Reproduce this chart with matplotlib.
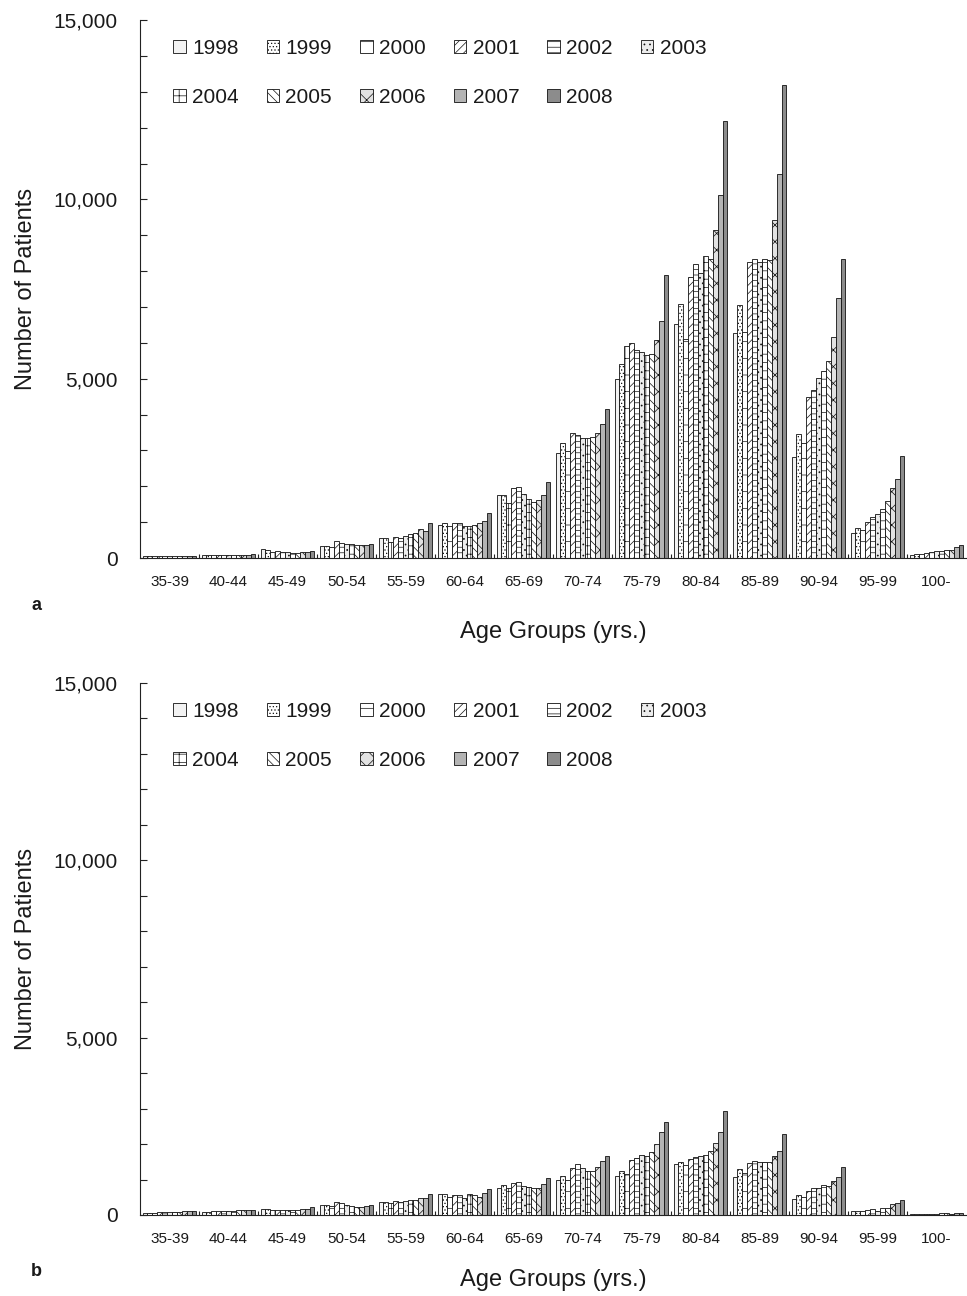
import numpy as np
import matplotlib
matplotlib.use('Agg')
import matplotlib.pyplot as plt
from matplotlib.ticker import MultipleLocator, FuncFormatter

plt.rcParams['font.family'] = ['Liberation Sans', 'DejaVu Sans']
plt.rcParams['hatch.linewidth'] = 0.5

years = ['1998', '1999', '2000', '2001', '2002', '2003',
         '2004', '2005', '2006', '2007', '2008']
age_groups = ['35-39', '40-44', '45-49', '50-54', '55-59', '60-64', '65-69',
              '70-74', '75-79', '80-84', '85-89', '90-94', '95-99', '100-']

# panel a: one row per age group, one value per year (1998..2008)
counts_a = [
    [60, 50, 50, 60, 70, 60, 60, 60, 60, 50, 60],
    [90, 80, 90, 90, 90, 90, 90, 90, 90, 90, 100],
    [250, 230, 180, 200, 180, 170, 150, 150, 160, 180, 200],
    [340, 340, 310, 470, 430, 400, 400, 370, 360, 370, 400],
    [550, 550, 460, 590, 560, 610, 670, 700, 810, 760, 980],
    [910, 980, 890, 980, 980, 890, 900, 910, 980, 1030, 1260],
    [1770, 1760, 1540, 1940, 1970, 1780, 1640, 1560, 1620, 1760, 2130],
    [2920, 3200, 2990, 3500, 3430, 3360, 3360, 3380, 3500, 3750, 4170],
    [4980, 5400, 5900, 6000, 5800, 5750, 5660, 5700, 6080, 6610, 7890],
    [6540, 7080, 6120, 7840, 8190, 7960, 8420, 8330, 9140, 10120, 12180],
    [6280, 7050, 6300, 8250, 8350, 8250, 8350, 8300, 9420, 10720, 13200],
    [2810, 3450, 3220, 4480, 4680, 5010, 5220, 5490, 6150, 7250, 8350],
    [690, 850, 780, 1000, 1140, 1230, 1370, 1580, 1950, 2200, 2850],
    [90, 100, 110, 150, 170, 200, 210, 220, 220, 300, 370],
]

# panel b
counts_b = [
    [60, 70, 70, 90, 90, 80, 90, 90, 100, 100, 110],
    [90, 90, 100, 110, 120, 110, 110, 130, 130, 130, 140],
    [180, 160, 150, 150, 140, 150, 140, 150, 160, 180, 220],
    [280, 280, 250, 360, 330, 290, 260, 230, 220, 240, 290],
    [370, 380, 330, 390, 380, 390, 420, 420, 490, 470, 580],
    [580, 580, 520, 550, 550, 490, 580, 550, 500, 610, 730],
    [770, 850, 750, 890, 920, 820, 800, 750, 750, 870, 1050],
    [1000, 1110, 980, 1320, 1430, 1320, 1240, 1240, 1360, 1530, 1660],
    [1110, 1240, 1150, 1550, 1600, 1690, 1660, 1790, 1990, 2350, 2610],
    [1430, 1500, 1400, 1580, 1630, 1660, 1690, 1800, 2040, 2350, 2930],
    [1080, 1290, 1190, 1460, 1530, 1500, 1500, 1500, 1660, 1810, 2270],
    [440, 560, 520, 690, 750, 750, 850, 820, 970, 1060, 1360],
    [120, 120, 120, 140, 160, 120, 200, 200, 300, 330, 420],
    [15, 15, 15, 20, 20, 30, 45, 50, 40, 50, 60],
]

# fill / hatch for each year, greyscale like the print
faces = ['#f2f2f2', '#ffffff', '#ffffff', '#ffffff', '#ffffff', '#ececec',
         '#ffffff', '#ffffff', '#e2e2e2', '#b4b4b4', '#8c8c8c']
hatches = ['', '.....', '-|', '////', '---', '...',
           '++', '\\\\\\\\', 'xx', '', '']

txt = '#1a1a1a'
fig = plt.figure(figsize=(9.67, 12.96), dpi=100)
ax_a = fig.add_axes([0.1448, 0.5694, 0.8542, 0.4151])
ax_b = fig.add_axes([0.1448, 0.0625, 0.8542, 0.4105])

x = np.arange(len(age_groups))
w = 0.083


def draw(ax, counts, xlab_y):
    data = np.array(counts)
    bars = []
    for j, yr in enumerate(years):
        b = ax.bar(x + (j - 5) * w, data[:, j], width=w, color=faces[j],
                   hatch=hatches[j], edgecolor='#111111', linewidth=0.6,
                   label=yr)
        bars.append(b)
    ax.set_xlim(-0.5, len(age_groups) - 0.5)
    ax.set_ylim(0, 15000)
    ax.spines['top'].set_visible(False)
    ax.spines['right'].set_visible(False)
    ax.spines['left'].set_color('#222222')
    ax.spines['bottom'].set_color('#222222')
    ax.yaxis.set_major_locator(MultipleLocator(5000))
    ax.yaxis.set_minor_locator(MultipleLocator(1000))
    ax.yaxis.set_major_formatter(FuncFormatter(lambda v, p: f'{v:,.0f}'))
    ax.tick_params(axis='y', which='both', direction='in', length=5,
                   width=0.8, color='#222222')
    ax.tick_params(axis='y', which='major', labelsize=15, pad=16,
                   labelcolor=txt)
    ax.set_xticks(x)
    ax.set_xticklabels(age_groups)
    ax.set_xticks(np.arange(0.5, len(age_groups) - 0.5, 1), minor=True)
    ax.tick_params(axis='x', which='major', length=0, labelsize=11,
                   pad=12, labelcolor=txt)
    ax.tick_params(axis='x', which='minor', direction='in', length=3,
                   width=0.8, color='#222222')
    ax.set_ylabel('Number of Patients', fontsize=17, color=txt)
    ax.yaxis.set_label_coords(-0.1247, 0.5)
    ax.set_xlabel('Age Groups (yrs.)', fontsize=17, color=txt)
    ax.xaxis.set_label_coords(0.5, xlab_y)

    # legend laid out in two rows of six columns (column-major order)
    order = [0, 6, 1, 7, 2, 8, 3, 9, 4, 10, 5]
    ax.legend([bars[k] for k in order], [years[k] for k in order],
              ncol=6, loc='upper left', bbox_to_anchor=(0.02, 0.996),
              frameon=False, fontsize=15, handlelength=0.6,
              handleheight=0.6, handletextpad=0.3, columnspacing=1.35,
              labelspacing=1.45, borderpad=0.3, labelcolor=txt)


draw(ax_a, counts_a, -0.117)
draw(ax_b, counts_b, -0.1015)

fig.text(0.038, 0.533, 'a', fontsize=13, fontweight='bold', color=txt,
         ha='center', va='center')
fig.text(0.038, 0.019, 'b', fontsize=13, fontweight='bold', color=txt,
         ha='center', va='center')

fig.savefig('out.png', dpi=100)
